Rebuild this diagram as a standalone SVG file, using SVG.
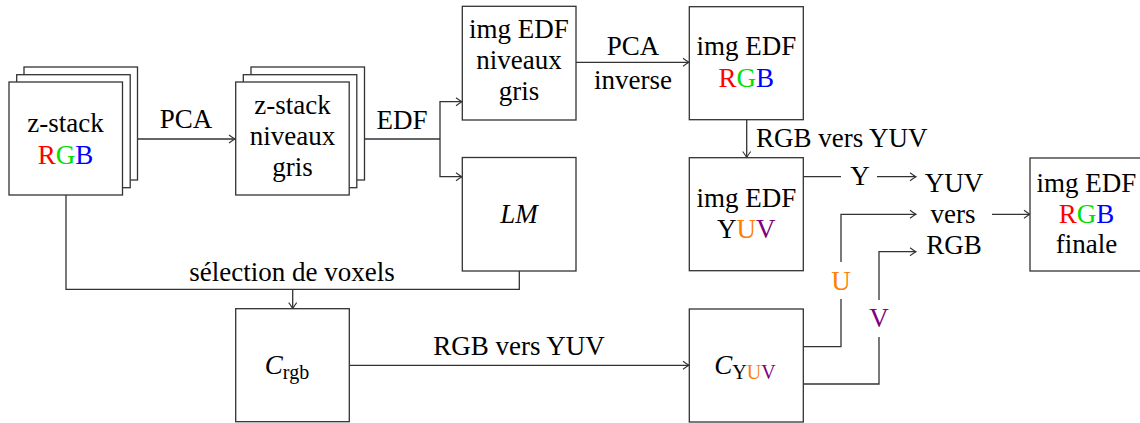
<svg xmlns="http://www.w3.org/2000/svg" width="1140" height="423" viewBox="0 0 1140 423">
<style>
.box{fill:#fff;stroke:#333;stroke-width:1.3}
.ln{fill:none;stroke:#333;stroke-width:1.3}
.arr{fill:none;stroke:#333;stroke-width:1.3;marker-end:url(#to)}
text{font-family:'Liberation Serif','DejaVu Serif',serif;font-size:27px;fill:#000;text-anchor:middle}
.r{fill:#ff0000}.g{fill:#00e000}.b{fill:#0000ff}.o{fill:#ff8000}.p{fill:#800080}
.it{font-style:italic}
.sub{font-size:20px}
</style>
<defs>
<marker id="to" markerWidth="10" markerHeight="10" refX="0" refY="0" viewBox="-8 -5 9 10" orient="auto" markerUnits="userSpaceOnUse">
<path d="M-6,-4 Q-2,-1 0,0 Q-2,1 -6,4" fill="none" stroke="#333" stroke-width="1.1"/>
</marker>
</defs>

<g id="connectors">
<path class="arr" d="M138,139 H235"/>
<text x="186" y="128">PCA</text>
<path class="ln" d="M365,139 H440"/>
<path class="arr" d="M440,139 V101.7 H462"/>
<path class="arr" d="M440,139 V176.7 H462"/>
<text x="402" y="129">EDF</text>
<path class="arr" d="M576,62.3 H689"/>
<text x="633" y="55">PCA</text>
<text x="633" y="89">inverse</text>
<path class="arr" d="M746.7,120 V157.5"/>
<text x="756" y="146.5" style="text-anchor:start">RGB vers YUV</text>
<path class="ln" d="M803,176.7 H841"/>
<path class="arr" d="M877,176.7 H916"/>
<text x="860" y="185">Y</text>
<path class="ln" d="M66,195 V289.3 H519.3 V271"/>
<path class="arr" d="M292.7,289.3 V308.7"/>
<text x="292" y="281">sélection de voxels</text>
<path class="arr" d="M349.3,365.3 H689"/>
<text x="519" y="355">RGB vers YUV</text>
<path class="arr" d="M803,346.7 H841 V214.3 H916"/>
<rect x="831" y="262" width="20" height="37" fill="#fff"/>
<text x="841" y="290" class="o">U</text>
<path class="arr" d="M803,384 H879 V251.7 H916"/>
<rect x="869" y="300" width="20" height="37" fill="#fff"/>
<text x="879" y="327" class="p">V</text>
<path class="arr" d="M992,214.3 H1030"/>
</g>

<g id="zstack-rgb">
<rect class="box" x="24" y="67" width="113.5" height="113"/>
<rect class="box" x="16.7" y="74.7" width="113.5" height="113"/>
<rect class="box" x="9" y="82" width="113.5" height="113"/>
<text x="65.5" y="131.5">z-stack</text>
<text x="65.5" y="163.5"><tspan class="r">R</tspan><tspan class="g">G</tspan><tspan class="b">B</tspan></text>
</g>

<g id="zstack-gris">
<rect class="box" x="251" y="67" width="113.5" height="113"/>
<rect class="box" x="243.3" y="74.7" width="113.5" height="113"/>
<rect class="box" x="235.7" y="82" width="113.5" height="113"/>
<text x="292.5" y="113.5">z-stack</text>
<text x="292.5" y="145">niveaux</text>
<text x="292.5" y="176">gris</text>
</g>

<g id="edf-gris">
<rect class="box" x="462.3" y="6.3" width="113.7" height="113.7"/>
<text x="519" y="37.5">img EDF</text>
<text x="519" y="68.5">niveaux</text>
<text x="519" y="100">gris</text>
</g>

<g id="lm">
<rect class="box" x="462.3" y="157.5" width="113.7" height="113.5"/>
<text x="519" y="223" class="it">LM</text>
</g>

<g id="edf-rgb">
<rect class="box" x="689.3" y="6.7" width="114" height="113"/>
<text x="746.3" y="55">img EDF</text>
<text x="746.3" y="87.3"><tspan class="r">R</tspan><tspan class="g">G</tspan><tspan class="b">B</tspan></text>
</g>

<g id="edf-yuv">
<rect class="box" x="689.3" y="157.7" width="114" height="113"/>
<text x="746.3" y="206.7">img EDF</text>
<text x="746.3" y="238.3">Y<tspan class="o">U</tspan><tspan class="p">V</tspan></text>
</g>

<g id="yuv-vers-rgb">
<text x="954" y="192">YUV</text>
<text x="953" y="223">vers</text>
<text x="954" y="254">RGB</text>
</g>

<g id="edf-final">
<rect class="box" x="1030" y="158" width="114" height="113"/>
<text x="1086.5" y="191.7">img EDF</text>
<text x="1086.5" y="223.3"><tspan class="r">R</tspan><tspan class="g">G</tspan><tspan class="b">B</tspan></text>
<text x="1086.5" y="253">finale</text>
</g>

<g id="c-rgb">
<rect class="box" x="235.7" y="308.7" width="113.6" height="113"/>
<text x="287" y="374"><tspan class="it">C</tspan><tspan class="sub" dy="5">rgb</tspan></text>
</g>

<g id="c-yuv">
<rect class="box" x="689.3" y="309" width="114" height="113"/>
<text x="745" y="374"><tspan class="it">C</tspan><tspan class="sub" dy="5">Y</tspan><tspan class="sub o">U</tspan><tspan class="sub p">V</tspan></text>
</g>
</svg>
